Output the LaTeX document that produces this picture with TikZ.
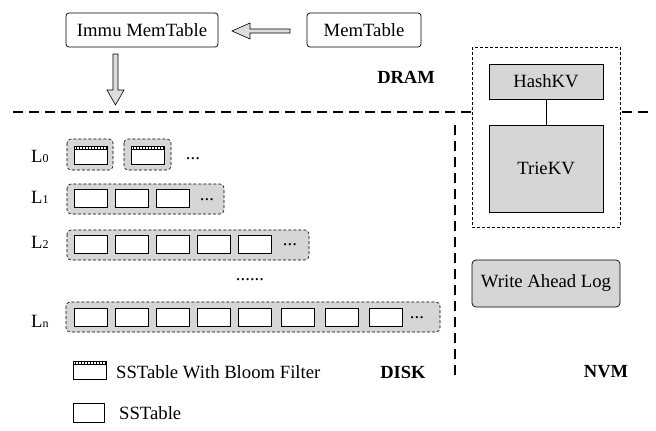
\documentclass[tikz,border=0pt]{standalone}
\usepackage{fontspec}
\setmainfont{Liberation Serif}
\begin{document}
\begin{tikzpicture}[x=1pt,y=-1pt,
  box/.style={draw, rounded corners=3pt, line width=0.7pt, inner sep=0pt},
  graybox/.style={draw, fill=boxgray, line width=0.7pt, inner sep=0pt},
  grp/.style={draw, fill=boxgray, dashed, dash pattern=on 3pt off 2pt, rounded corners=4pt, line width=0.6pt},
  sst/.style={draw, fill=white, line width=0.8pt},
  hollow/.style={draw, fill=arrowgray, line width=0.6pt, line join=miter},
  sep/.style={dash pattern=on 10pt off 6pt, line width=1.6pt},
  lbl/.style={font=\fontsize{18.7}{20}\selectfont, inner sep=0pt},
  bold/.style={font=\fontsize{18.5}{20}\selectfont\bfseries, inner sep=0pt},
]
\definecolor{boxgray}{HTML}{D6D6D6}
\definecolor{arrowgray}{HTML}{DDDDDD}
\useasboundingbox (0,0) rectangle (656,431);

% DRAM boxes
\node[box, minimum width=152pt, minimum height=34pt, lbl] (immu) at (142,30) {Immu MemTable};
\node[box, minimum width=114pt, minimum height=34pt, lbl] (mem) at (364,30) {MemTable};

% hollow left arrow
\draw[hollow] (232,31) -- (250,23) -- (250,29) -- (290,29) -- (290,33) -- (250,33) -- (250,39) -- cycle;
% hollow down arrow
\draw[hollow] (113,54) -- (118,54) -- (118,90) -- (124,90) -- (115.5,105) -- (107,90) -- (113,90) -- cycle;

\node[bold, anchor=east] (dram) at (435,77) {DRAM};

% separators
\draw[sep] (13,112) -- (472,112);
\draw[sep] (622,112) -- (648,112);
\draw[sep] (455,125) -- (455,380);

% NVM
\draw[dashed, dash pattern=on 3pt off 2pt, line width=0.6pt] (472,47) rectangle (620,227);
\node[graybox, minimum width=114pt, minimum height=35pt, lbl] (hash) at (546,81.5) {HashKV};
\node[graybox, minimum width=114pt, minimum height=87pt, lbl] (trie) at (546,168.5) {TrieKV};
\draw[line width=0.7pt] (hash.south) -- (trie.north);
\node[graybox, rounded corners=4pt, minimum width=148pt, minimum height=47pt, lbl] (wal) at (546,283.5) {Write Ahead Log};
\node[bold] (nvm) at (606,372) {NVM};
\node[bold] (disk) at (403,372) {DISK};

% level labels
\node[lbl, anchor=base west] (l0) at (31,162) {L\fontsize{12}{12}\selectfont 0};
\node[lbl, anchor=base west] (l1) at (31,203) {L\fontsize{12}{12}\selectfont 1};
\node[lbl, anchor=base west] (l2) at (31,248) {L\fontsize{12}{12}\selectfont 2};
\node[lbl, anchor=base west] (ln) at (31,327) {L\fontsize{12}{12}\selectfont n};

% bloom sstable macro
\newcommand{\bloomsst}[2]{%
  \draw[sst] (#1,#2) rectangle ++(33,18);
  \draw[line width=0.8pt] (#1,#2+3.5) -- ++(33,0);
  \foreach \k in {2,5,...,32} {\draw[line width=0.6pt] (#1+\k,#2) -- ++(0,3.5);}
}

% L0
\draw[grp] (67,139) rectangle (113,170);
\draw[grp] (124,139) rectangle (171,170);
\bloomsst{74}{146}
\bloomsst{131}{146}
\node[lbl] (d0) at (193,159) {...};

% L1
\draw[grp] (67,184) rectangle (224,214);
\foreach \x in {74,115,156} {\draw[sst] (\x,189) rectangle ++(33,18);}
\node[lbl] (d1) at (207,200) {...};

% L2
\draw[grp] (67,230) rectangle (309,260);
\foreach \x in {74,115,156,197,238} {\draw[sst] (\x,235) rectangle ++(33,18);}
\node[lbl] (d2) at (290,245) {...};

\node[lbl] (dots) at (250,280) {......};

% Ln
\draw[grp] (66,302) rectangle (440,332);
\foreach \x in {74,115,156,197,238,281,325,369} {\draw[sst] (\x,308) rectangle ++(33,18);}
\node[lbl] (dn) at (417,318) {...};

% legend
\bloomsst{73}{361}
\node[lbl, anchor=west] (lg1) at (116,372) {SSTable With Bloom Filter};
\draw[sst] (73,403) rectangle ++(31,19);
\node[lbl, anchor=west] (lg2) at (119,413) {SSTable};
\end{tikzpicture}
\end{document}
